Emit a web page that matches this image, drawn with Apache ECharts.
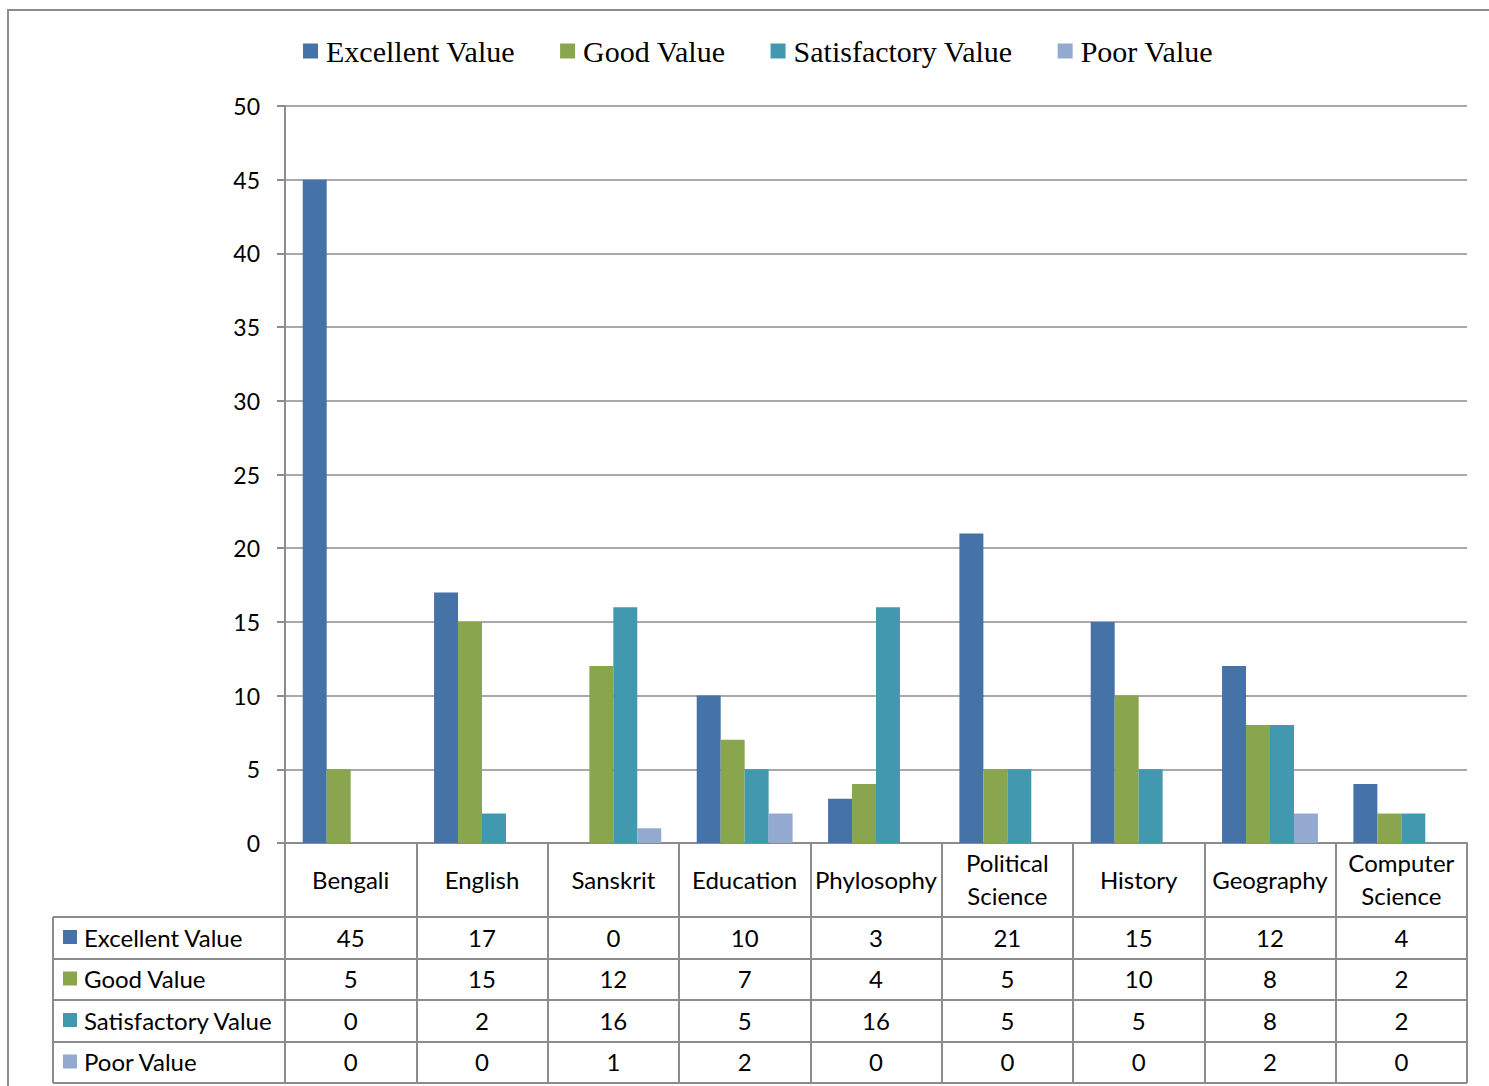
<!DOCTYPE html>
<html>
<head>
<meta charset="utf-8">
<script src="https://cdn.jsdelivr.net/npm/echarts@6/dist/echarts.min.js"></script>
<style>
  html, body { margin: 0; padding: 0; background: #fff; }
  #chart { width: 1489px; height: 1086px; }
</style>
</head>
<body>
<div id="chart"></div>
<script>
// data
var subjects = ['Bengali', 'English', 'Sanskrit', 'Education', 'Phylosophy', 'Political Science', 'History', 'Geography', 'Computer Science'];
var seriesNames = ['Excellent Value', 'Good Value', 'Satisfactory Value', 'Poor Value'];
var excellent = [45, 17, 0, 10, 3, 21, 15, 12, 4];
var good = [5, 15, 12, 7, 4, 5, 10, 8, 2];
var satisfactory = [0, 2, 16, 5, 16, 5, 5, 8, 2];
var poor = [0, 0, 1, 2, 0, 0, 0, 2, 0];
var colors = ['#4572A7', '#89A54E', '#4198AF', '#93A9CF'];

var values = [excellent, good, satisfactory, poor];

// layout
var gridL = 285, gridR = 1467, gridT = 106, gridB = 843;
var rowLines = [917, 959, 1000, 1042, 1083];
var tableLeft = 53;
var catW = (gridR - gridL) / subjects.length;
var lineColor = '#8c8c8c';
var font = 'Lato';
var tableFont = '24px ' + font;

var chart = echarts.init(document.getElementById('chart'), null, { renderer: 'svg' });

var graphics = [];
// outer frame
graphics.push({
  type: 'rect', shape: { x: 8, y: 10, width: 1500, height: 1100 },
  style: { fill: 'none', stroke: lineColor, lineWidth: 2 }, silent: true
});
// table grid lines
rowLines.forEach(function (y) {
  graphics.push({ type: 'line', shape: { x1: tableLeft, y1: y, x2: gridR, y2: y },
    style: { stroke: lineColor, lineWidth: 2 }, silent: true });
});
graphics.push({ type: 'line', shape: { x1: tableLeft, y1: rowLines[0], x2: tableLeft, y2: rowLines[4] },
  style: { stroke: lineColor, lineWidth: 2 }, silent: true });
graphics.push({ type: 'line', shape: { x1: gridL, y1: gridB, x2: gridL, y2: rowLines[4] },
  style: { stroke: lineColor, lineWidth: 2 }, silent: true });
graphics.push({ type: 'line', shape: { x1: gridR, y1: gridB, x2: gridR, y2: rowLines[4] },
  style: { stroke: lineColor, lineWidth: 2 }, silent: true });
// table rows
seriesNames.forEach(function (name, r) {
  var cy = (rowLines[r] + rowLines[r + 1]) / 2 - 1;
  graphics.push({ type: 'rect', shape: { x: 63, y: cy - 7, width: 14, height: 14 },
    style: { fill: colors[r] }, silent: true });
  graphics.push({ type: 'text', x: 84, y: cy,
    style: { text: name, font: tableFont, fill: '#000', textVerticalAlign: 'middle', textAlign: 'left' }, silent: true });
  values[r].forEach(function (v, c) {
    graphics.push({ type: 'text', x: gridL + catW * (c + 0.5), y: cy,
      style: { text: String(v), font: tableFont, fill: '#000', textAlign: 'center', textVerticalAlign: 'middle' }, silent: true });
  });
});

var series = seriesNames.map(function (name, i) {
  return {
    name: name, type: 'bar', data: values[i],
    barGap: '0%', barCategoryGap: '27%',
    itemStyle: { color: colors[i] }
  };
});

chart.setOption({
  animation: false,
  textStyle: { fontFamily: font },
  legend: {
    top: 31, left: 298,
    itemWidth: 15, itemHeight: 15, itemGap: 45,
    icon: 'rect',
    textStyle: { fontFamily: 'Liberation Serif', fontSize: 30, color: '#000', padding: [0, 0, 0, 3] },
    data: seriesNames
  },
  grid: { left: gridL, right: 1489 - gridR, top: gridT, bottom: 1086 - gridB },
  xAxis: {
    type: 'category',
    data: subjects,
    axisLine: { lineStyle: { color: lineColor, width: 2 } },
    axisTick: { show: true, length: rowLines[4] - gridB, lineStyle: { color: lineColor, width: 2 } },
    axisLabel: {
      margin: 36, fontSize: 24, color: '#000', fontFamily: font,
      verticalAlign: 'middle', lineHeight: 33, interval: 0,
      formatter: function (v) { return v.replace(' ', '\n'); }
    }
  },
  yAxis: {
    type: 'value', min: 0, max: 50, interval: 5,
    axisLine: { show: true, lineStyle: { color: lineColor, width: 2 } },
    axisTick: { show: true, length: 8, lineStyle: { color: lineColor, width: 2 } },
    axisLabel: { margin: 25, fontSize: 23, color: '#000', fontFamily: font },
    splitLine: { lineStyle: { color: lineColor, width: 1.5 } }
  },
  series: series,
  graphic: graphics
});
</script>
</body>
</html>
